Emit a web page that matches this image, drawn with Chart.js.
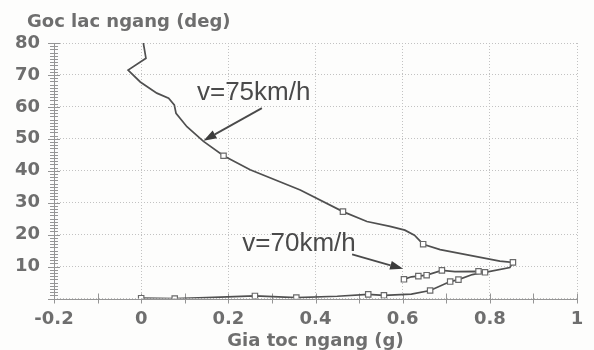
<!DOCTYPE html>
<html><head><meta charset="utf-8">
<script src="https://cdn.jsdelivr.net/npm/chart.js@4.4.0/dist/chart.umd.min.js"></script>
<style>html,body{margin:0;padding:0;background:#fdfdfc}#wrap{width:594px;height:350px}</style>
</head><body><div id="wrap"><canvas id="c" width="594" height="350"></canvas></div>
<script>
// Axis texts and ticks
const yTitle = 'Goc lac ngang (deg)';
const xTitle = 'Gia toc ngang (g)';
const xTickValues = [-0.2, 0, 0.2, 0.4, 0.6, 0.8, 1];
const xTickLabels = ['-0.2', '0', '0.2', '0.4', '0.6', '0.8', '1'];
const yTickValues = [0, 10, 20, 30, 40, 50, 60, 70, 80];
const yTickLabels = ['', '10', '20', '30', '40', '50', '60', '70', '80'];

// v = 75 km/h : lateral acceleration (g) vs slip angle (deg)
const v75Accel = [0.005, 0.011, -0.03, -0.002, 0.036, 0.063, 0.076, 0.08, 0.105, 0.143, 0.189, 0.25, 0.365, 0.463, 0.518, 0.571, 0.605, 0.627, 0.647, 0.686, 0.823, 0.853, 0.846, 0.789, 0.774, 0.72, 0.69, 0.655, 0.636, 0.62, 0.603];
const v75Angle = [80, 75.2, 71.5, 67.8, 64.3, 62.7, 60.6, 58, 53.8, 49.2, 44.7, 40.3, 34, 27.2, 24.1, 22.6, 21.4, 19.8, 17, 15.3, 11.7, 11.3, 9.7, 8.2, 8.5, 8.4, 8.8, 7.3, 7.0, 6.8, 6.0];
const v75Measured = [10, 13, 18, 21, 23, 24, 26, 27, 28, 30];

// v = 70 km/h
const v70Accel = [0, 0.077, 0.15, 0.261, 0.356, 0.45, 0.521, 0.557, 0.62, 0.663, 0.709, 0.728, 0.76, 0.79];
const v70Angle = [0.1, 0, 0.3, 0.8, 0.3, 0.7, 1.3, 1.0, 1.4, 2.5, 5.3, 5.9, 7.5, 8.3];
const v70Measured = [0, 1, 3, 4, 6, 7, 9, 10, 11];

// Speed labels with their arrows (value coordinates)
const notes = [
  { text: 'v=75km/h', at: [0.128, 64.4], from: [0.277, 59.6], to: [0.143, 49.4] },
  { text: 'v=70km/h', at: [0.232, 17.2], from: [0.484, 13.8], to: [0.601, 9.3] }
];

const INK = '#505050';
const AXIS_FONT = { family: 'DejaVu Sans', weight: 'bold', size: 18 };
const AXIS_TEXT = '#6e6e6e';

function series(xs, ys, marked) {
  return {
    data: xs.map((x, i) => ({ x: x, y: ys[i] })),
    showLine: true,
    borderColor: INK,
    borderWidth: 1.7,
    tension: 0,
    pointStyle: 'rect',
    pointRadius: ctx => marked.includes(ctx.dataIndex) ? 3.8 : 0,
    pointBackgroundColor: '#ffffff',
    pointBorderColor: '#6a6a6a',
    pointBorderWidth: 1.2
  };
}

const decor = {
  id: 'decor',
  beforeDraw(chart) {
    const c = chart.ctx;
    c.save();
    c.fillStyle = '#fdfdfc';
    c.fillRect(0, 0, chart.width, chart.height);
    c.restore();
  },
  beforeDatasetsDraw(chart) {
    const c = chart.ctx, xs = chart.scales.x, ys = chart.scales.y, a = chart.chartArea;
    c.save();
    c.setLineDash([]);
    c.strokeStyle = '#959595';
    c.lineWidth = 1;
    // axis lines
    c.beginPath(); c.moveTo(a.left + 0.5, a.top); c.lineTo(a.left + 0.5, a.bottom); c.stroke();
    c.beginPath(); c.moveTo(a.left, Math.round(a.bottom) + 0.5); c.lineTo(a.right, Math.round(a.bottom) + 0.5); c.stroke();
    // minor tick marks crossing the axes
    for (let v = 0; v <= 80; v += 1) {
      const py = Math.round(ys.getPixelForValue(v)) + 0.5;
      const w = v % 10 === 0 ? 6 : 4;
      c.beginPath(); c.moveTo(a.left - w, py); c.lineTo(a.left + w, py); c.stroke();
    }
    for (let k = -2; k <= 10; k += 1) {
      const px = Math.round(xs.getPixelForValue(k / 10)) + 0.5;
      c.beginPath(); c.moveTo(px, a.bottom - 5); c.lineTo(px, a.bottom + 5); c.stroke();
    }
    c.restore();
  },
  afterDraw(chart) {
    const c = chart.ctx, xs = chart.scales.x, ys = chart.scales.y, a = chart.chartArea;
    c.save();
    // axis titles
    c.fillStyle = AXIS_TEXT;
    c.font = 'bold 18px "DejaVu Sans"';
    c.textBaseline = 'alphabetic';
    c.textAlign = 'left';
    c.fillText(yTitle, 27, 27);
    c.textAlign = 'center';
    c.fillText(xTitle, (a.left + a.right) / 2, 346);
    // speed labels and arrows
    c.font = '26px "Liberation Sans"';
    c.textAlign = 'left';
    c.textBaseline = 'middle';
    notes.forEach(n => {
      c.fillStyle = '#4a4a4a';
      c.fillText(n.text, xs.getPixelForValue(n.at[0]), ys.getPixelForValue(n.at[1]));
      const x0 = xs.getPixelForValue(n.from[0]), y0 = ys.getPixelForValue(n.from[1]);
      const x1 = xs.getPixelForValue(n.to[0]), y1 = ys.getPixelForValue(n.to[1]);
      const ang = Math.atan2(y1 - y0, x1 - x0), L = 13, H = 4.5;
      const bx = x1 - L * Math.cos(ang), by = y1 - L * Math.sin(ang);
      c.strokeStyle = '#4a4a4a';
      c.lineWidth = 1.8;
      c.beginPath(); c.moveTo(x0, y0); c.lineTo(bx, by); c.stroke();
      c.fillStyle = '#3c3c3c';
      c.beginPath();
      c.moveTo(x1, y1);
      c.lineTo(bx + H * Math.sin(ang), by - H * Math.cos(ang));
      c.lineTo(bx - H * Math.sin(ang), by + H * Math.cos(ang));
      c.closePath(); c.fill();
    });
    c.restore();
  }
};

new Chart(document.getElementById('c'), {
  type: 'scatter',
  data: { datasets: [series(v75Accel, v75Angle, v75Measured), series(v70Accel, v70Angle, v70Measured)] },
  options: {
    responsive: false,
    devicePixelRatio: 1,
    animation: false,
    events: [],
    layout: { padding: { left: 0, top: 43, right: 17, bottom: 0 } },
    plugins: { legend: { display: false }, tooltip: { enabled: false }, title: { display: false } },
    scales: {
      x: {
        type: 'linear', min: -0.2, max: 1,
        afterBuildTicks: s => { s.ticks = xTickValues.map(v => ({ value: v })); },
        afterFit: s => { s.height = 51.5; },
        ticks: { font: AXIS_FONT, color: AXIS_TEXT, padding: 10, maxRotation: 0, autoSkip: false,
                 callback: (v, i) => xTickLabels[i] },
        grid: { color: '#c2c2c2', lineWidth: 1, drawTicks: false },
        border: { display: false, dash: [1, 2] }
      },
      y: {
        type: 'linear', min: 0, max: 80,
        afterBuildTicks: s => { s.ticks = yTickValues.map(v => ({ value: v })); },
        afterFit: s => { s.width = 54; },
        ticks: { font: AXIS_FONT, color: AXIS_TEXT, padding: 14, autoSkip: false,
                 callback: (v, i) => yTickLabels[i] },
        grid: { color: '#c2c2c2', lineWidth: 1, drawTicks: false },
        border: { display: false, dash: [1, 2] }
      }
    }
  },
  plugins: [decor]
});
</script>
</body></html>
